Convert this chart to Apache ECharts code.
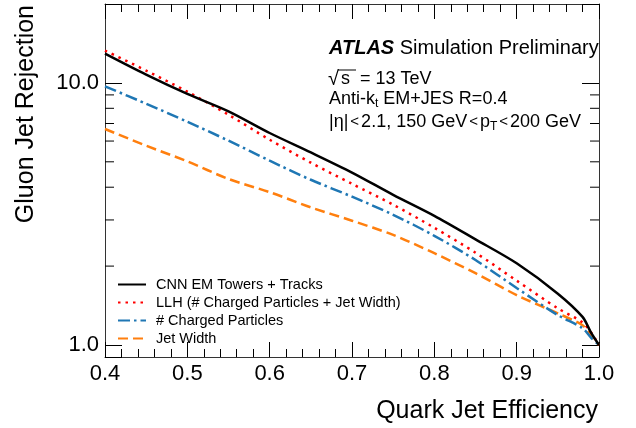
<!DOCTYPE html>
<html>
<head>
<meta charset="utf-8">
<script src="https://cdn.jsdelivr.net/npm/echarts@6/dist/echarts.min.js"></script>
<style>
  html, body { margin: 0; padding: 0; background: #fff; }
  #chart { width: 636px; height: 428px; }
</style>
</head>
<body>
<div id="chart"></div>
<script>
// quark jet efficiency (x) and gluon jet rejection for each tagger
var effX = [0.40, 0.45, 0.50, 0.55, 0.60, 0.65, 0.70, 0.75, 0.80, 0.85, 0.90, 0.95, 0.98, 0.99, 1.00];
var cnnRej = [12.94, 10.76, 9.08, 7.79, 6.44, 5.43, 4.55, 3.74, 3.11, 2.53, 2.05, 1.57, 1.28, 1.12, 1.0];
var llhRej = [13.29, 11.14, 9.26, 7.56, 6.07, 4.96, 4.12, 3.43, 2.80, 2.25, 1.76, 1.38, 1.22, 1.12, 1.0];
var nchRej = [9.70, 8.33, 7.11, 6.02, 5.05, 4.27, 3.68, 3.14, 2.61, 2.11, 1.65, 1.30, 1.16, 1.07, 1.0];
var widthRej = [6.67, 5.76, 5.02, 4.30, 3.83, 3.35, 2.98, 2.63, 2.24, 1.88, 1.55, 1.32, 1.19, 1.09, 1.0];
var seriesNames = ['CNN EM Towers + Tracks', 'LLH (# Charged Particles + Jet Width)', '# Charged Particles', 'Jet Width'];
var yMinorTicks = [2, 3, 4, 5, 6, 7, 8, 9];

var FONT = 'Liberation Sans';

function pairs(ys) {
  return effX.map(function (x, i) { return [x, ys[i]]; });
}

var chart = echarts.init(document.getElementById('chart'));

var xAxisBase = {
  type: 'value',
  min: 0.4,
  max: 1.0,
  interval: 0.1,
  axisLine: { lineStyle: { color: '#333', width: 1 } },
  axisTick: { inside: true, length: 15, lineStyle: { color: '#000' } },
  minorTick: { show: true, splitNumber: 5, length: 8, lineStyle: { color: '#000' } },
  splitLine: { show: false }
};
var yAxisBase = {
  type: 'log',
  logBase: 10,
  min: 0.9,
  max: 20,
  axisLine: { show: true, lineStyle: { color: '#333', width: 1 } },
  axisTick: { inside: true, length: 17, lineStyle: { color: '#000' } },
  splitLine: { show: false }
};

var subStyle = { fontFamily: FONT, fontSize: 12, padding: [10, 0, 0, 0], fill: '#000' };
var ltStyle = { fontFamily: FONT, fontSize: 15, padding: [0, 2, 0, 2], fill: '#000' };

var option = {
  animation: false,
  backgroundColor: '#fff',
  grid: { left: 105, right: 37, top: 4, bottom: 71 },
  xAxis: [
    Object.assign({}, xAxisBase, {
      position: 'bottom',
      axisLabel: {
        color: '#000', fontFamily: FONT, fontSize: 22, margin: 6,
        formatter: function (v) { return v.toFixed(1); }
      }
    }),
    Object.assign({}, xAxisBase, { position: 'top', axisLabel: { show: false } })
  ],
  yAxis: [
    Object.assign({}, yAxisBase, {
      position: 'left',
      axisLabel: {
        color: '#000', fontFamily: FONT, fontSize: 22, margin: 6,
        formatter: function (v) {
          var l = Math.log10(v);
          return Math.abs(l - Math.round(l)) < 1e-6 ? v.toFixed(1) : '';
        }
      }
    }),
    Object.assign({}, yAxisBase, { position: 'right', axisLabel: { show: false } })
  ],
  legend: {
    data: seriesNames,
    orient: 'vertical',
    left: 117,
    top: 277,
    padding: 0,
    itemWidth: 28,
    itemHeight: 14,
    itemGap: 3,
    itemStyle: { opacity: 0 },
    textStyle: { color: '#000', fontFamily: FONT, fontSize: 14.5, padding: [0, 0, 0, 5] }
  },
  graphic: [
    {
      type: 'text', left: 14, top: 5,
      rotation: Math.PI / 2,
      style: { text: 'Gluon Jet Rejection', font: '25px ' + FONT, fill: '#000' }
    },
    {
      type: 'text', right: 38, top: 399,
      style: { text: 'Quark Jet Efficiency', font: '25px ' + FONT, fill: '#000' }
    },
    {
      type: 'text', left: 329, top: 38,
      style: {
        text: '{b|ATLAS} Simulation Preliminary',
        font: '20px ' + FONT, fill: '#000',
        rich: { b: { fontFamily: FONT, fontSize: 20, fontWeight: 'bold', fontStyle: 'italic', fill: '#000' } }
      }
    },
    {
      type: 'text', left: 328, top: 69,
      style: {
        text: '{r|√}s  = 13 TeV', font: '18px ' + FONT, fill: '#000',
        rich: { r: { fontFamily: FONT, fontSize: 20, fill: '#000', padding: [0, 2, 0, 0] } }
      }
    },
    {
      type: 'line', shape: { x1: 338, y1: 70, x2: 356, y2: 70 },
      style: { stroke: '#000', lineWidth: 1 }
    },
    {
      type: 'text', left: 329, top: 90,
      style: {
        text: 'Anti-k{s|t} EM+JES R=0.4',
        font: '18px ' + FONT, fill: '#000',
        rich: { s: subStyle }
      }
    },
    {
      type: 'text', left: 329, top: 113,
      style: {
        text: '|η|{lt|<}2.1, 150 GeV{lt|<}p{s|T}{lt|<}200 GeV',
        font: '18px ' + FONT, fill: '#000',
        rich: { s: subStyle, lt: ltStyle }
      }
    }
  ],
  series: [
    {
      name: seriesNames[0], type: 'line', data: pairs(cnnRej), showSymbol: false, symbol: 'none',
      smooth: 0.3, lineStyle: { color: '#000', width: 2.5, type: 'solid' }, itemStyle: { color: '#000' }, z: 5
    },
    {
      name: seriesNames[1], type: 'line', data: pairs(llhRej), showSymbol: false, symbol: 'none',
      smooth: 0.3, lineStyle: { color: '#ff0000', width: 2.5, type: [2.5, 5] }, itemStyle: { color: '#ff0000' }, z: 4
    },
    {
      name: seriesNames[2], type: 'line', data: pairs(nchRej), showSymbol: false, symbol: 'none',
      smooth: 0.3, lineStyle: { color: '#1f77b4', width: 2.5, type: [12, 4, 2.5, 4] }, itemStyle: { color: '#1f77b4' }, z: 3
    },
    {
      name: seriesNames[3], type: 'line', data: pairs(widthRej), showSymbol: false, symbol: 'none',
      smooth: 0.3, lineStyle: { color: '#ff7f0e', width: 2.5, type: [10, 5] }, itemStyle: { color: '#ff7f0e' }, z: 2
    },
    {
      // minor ticks of the log axis, left and right
      type: 'custom', silent: true, z: 1,
      data: yMinorTicks.map(function (v) { return [0.4, v]; }),
      renderItem: function (params, api) {
        var p = api.coord([api.value(0), api.value(1)]);
        var cs = params.coordSys;
        return {
          type: 'group',
          children: [
            { type: 'line', shape: { x1: cs.x, y1: p[1], x2: cs.x + 9, y2: p[1] }, style: { stroke: '#000', lineWidth: 1 } },
            { type: 'line', shape: { x1: cs.x + cs.width - 9, y1: p[1], x2: cs.x + cs.width, y2: p[1] }, style: { stroke: '#000', lineWidth: 1 } }
          ]
        };
      }
    }
  ]
};

chart.setOption(option);
window.addEventListener('resize', function () { chart.resize(); });
</script>
</body>
</html>
